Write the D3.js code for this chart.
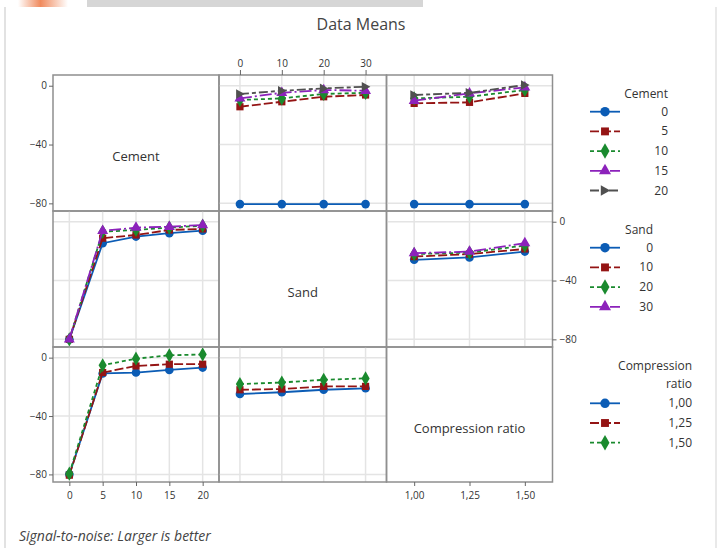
<!DOCTYPE html>
<html>
<head>
<meta charset="utf-8">
<script src="https://cdn.jsdelivr.net/npm/d3@7/dist/d3.min.js"></script>
<style>
  html, body { margin: 0; padding: 0; background: #fff; }
  svg { display: block; }
  text { font-family: "Open Sans", "Noto Sans", "DejaVu Sans", sans-serif; }
</style>
</head>
<body>
<svg id="chart" width="719" height="548"></svg>
<script>
// Factor levels
const cementLevels = [0, 5, 10, 15, 20];
const sandLevels = [0, 10, 20, 30];
const crLevels = [1.00, 1.25, 1.50];

// Tick labels
const cementTicks = ["0", "5", "10", "15", "20"];
const sandTicks = ["0", "10", "20", "30"];
const crTicks = ["1,00", "1,25", "1,50"];
const yTicks = [0, -40, -80];

// S/N means: one row per line level, one value per x level
const cementBySand = [
  [-80.5, -80.5, -80.5, -80.5],
  [-14.3, -10.9, -7.5, -6.3],
  [-9.7, -8.6, -5.6, -4.8],
  [-8.6, -4.8, -2.9, -3.4],
  [-5.6, -3.4, -1.8, -0.7]
];
const cementByCR = [
  [-80.5, -80.5, -80.5],
  [-12.0, -11.3, -5.2],
  [-8.6, -7.5, -2.9],
  [-10.2, -5.2, -1.1],
  [-6.3, -4.8, 0.5]
];
const sandByCement = [
  [-80, -14.6, -10.1, -7.8, -6.1],
  [-80, -11.2, -9.0, -5.6, -4.9],
  [-80, -6.8, -5.6, -4.0, -2.7],
  [-80, -6.2, -4.0, -3.4, -2.2]
];
const sandByCR = [
  [-25.9, -24.3, -20.3],
  [-23.7, -22.0, -18.5],
  [-22.0, -21.0, -16.2],
  [-21.4, -20.3, -14.6]
];
const crByCement = [
  [-80, -10.8, -10.2, -8.4, -6.8],
  [-80.5, -10.2, -5.7, -4.5, -4.5],
  [-79.5, -5.2, -0.7, 1.6, 2.2]
];
const crBySand = [
  [-24.9, -23.7, -22.0, -21.0],
  [-22.0, -21.5, -19.7, -19.7],
  [-18.1, -17.0, -15.2, -14.2]
];

// Line styles per level index
const colors = ["#0b5cb5", "#941414", "#1a8a2e", "#8c22bb", "#505050"];
const dashes = [null, "9,3", "4,3", "12,3,2,3", "9,3,4,3"];
const arrowSymbol = {
  draw(ctx, size) {
    const s = Math.sqrt(size) * 0.62;
    ctx.moveTo(-s * 0.8, -s);
    ctx.lineTo(s, 0);
    ctx.lineTo(-s * 0.8, s);
    ctx.closePath();
  }
};
const symbols = [d3.symbolCircle, d3.symbolSquare, d3.symbolDiamond, d3.symbolTriangle, arrowSymbol];
const symbolSizes = [58, 52, 58, 52, 60];

const svg = d3.select("#chart");

// Backdrop strip and edges
const grad = svg.append("defs").append("linearGradient").attr("id", "fade");
grad.append("stop").attr("offset", "0%").attr("stop-color", "#ffffff");
grad.append("stop").attr("offset", "45%").attr("stop-color", "#f08a5d");
grad.append("stop").attr("offset", "100%").attr("stop-color", "#ffffff");
svg.append("rect").attr("x", 18).attr("y", 0).attr("width", 50).attr("height", 7).attr("fill", "url(#fade)");
svg.append("rect").attr("x", 87).attr("y", 0).attr("width", 336).attr("height", 7).attr("fill", "#d6d6d6");
svg.append("line").attr("x1", 5).attr("x2", 5).attr("y1", 7).attr("y2", 548).attr("stroke", "#d9d9d9").attr("stroke-width", 1.5);
svg.append("line").attr("x1", 716).attr("x2", 716).attr("y1", 7).attr("y2", 548).attr("stroke", "#e2e2e2").attr("stroke-width", 1.5);

// Grid layout
const colX = [53, 219, 386.5, 552.5];
const rowY = [75, 211, 347, 482];

const factors = [
  { name: "Cement", levels: cementLevels, ticks: cementTicks, domain: [-2.45, 22.45] },
  { name: "Sand", levels: sandLevels, ticks: sandTicks, domain: [-5, 35] },
  { name: "Compression ratio", levels: crLevels, ticks: crTicks, domain: [0.875, 1.625] }
];
const xScales = factors.map((f, i) => d3.scaleLinear().domain(f.domain).range([colX[i], colX[i + 1]]));
const yScales = [0, 1, 2].map(i => d3.scaleLinear().domain([-85.2, 7.3]).range([rowY[i + 1], rowY[i]]));

// Interaction table: row factor gives the lines, column factor gives the x axis
const table = {
  "0-1": cementBySand, "0-2": cementByCR,
  "1-0": sandByCement, "1-2": sandByCR,
  "2-0": crByCement, "2-1": crBySand
};

const gridColor = "#e4e4e4";
const borderColor = "#8f8f8f";

for (let r = 0; r < 3; r++) {
  for (let c = 0; c < 3; c++) {
    const x = xScales[c], y = yScales[r];
    const g = svg.append("g");
    if (r === c) {
      g.append("text")
        .attr("x", (colX[c] + colX[c + 1]) / 2)
        .attr("y", (rowY[r] + rowY[r + 1]) / 2 + 18)
        .attr("text-anchor", "middle")
        .attr("font-size", 13)
        .attr("fill", "#333")
        .text(factors[c].name);
    } else {
      // gridlines
      g.selectAll(".vg").data(factors[c].levels).join("line")
        .attr("x1", d => x(d)).attr("x2", d => x(d))
        .attr("y1", rowY[r]).attr("y2", rowY[r + 1])
        .attr("stroke", gridColor).attr("stroke-width", 1.5);
      g.selectAll(".hg").data(yTicks).join("line")
        .attr("x1", colX[c]).attr("x2", colX[c + 1])
        .attr("y1", d => y(d)).attr("y2", d => y(d))
        .attr("stroke", gridColor).attr("stroke-width", 1.5);

      const rows = table[r + "-" + c];
      const lvls = factors[c].levels;
      rows.forEach((vals, k) => {
        const pts = vals.map((v, j) => [x(lvls[j]), y(v)]);
        g.append("path")
          .attr("d", d3.line()(pts))
          .attr("fill", "none")
          .attr("stroke", colors[k])
          .attr("stroke-width", 1.8)
          .attr("stroke-dasharray", dashes[k]);
        g.selectAll(null).data(pts).join("path")
          .attr("transform", p => `translate(${p[0]},${p[1]})`)
          .attr("d", d3.symbol(symbols[k], symbolSizes[k]))
          .attr("fill", colors[k]);
      });
    }
    g.append("rect")
      .attr("x", colX[c]).attr("y", rowY[r])
      .attr("width", colX[c + 1] - colX[c]).attr("height", rowY[r + 1] - rowY[r])
      .attr("fill", "none").attr("stroke", borderColor).attr("stroke-width", 1.5);
  }
}

// Axes
function styleAxis(sel) {
  sel.select(".domain").remove();
  sel.selectAll(".tick line").attr("stroke", "#666");
  sel.selectAll(".tick text").attr("fill", "#333").attr("font-size", 10)
    .style("font-family", "'Liberation Sans Narrow', 'Open Sans', sans-serif");
}
const fmtFrom = (levels, labels) => d => labels[levels.indexOf(d)];

svg.append("g").attr("transform", `translate(0,${rowY[0]})`)
  .call(d3.axisTop(xScales[1]).tickValues(sandLevels).tickFormat(fmtFrom(sandLevels, sandTicks)).tickSize(5).tickPadding(3))
  .call(styleAxis);
svg.append("g").attr("transform", `translate(0,${rowY[3]})`)
  .call(d3.axisBottom(xScales[0]).tickValues(cementLevels).tickFormat(fmtFrom(cementLevels, cementTicks)).tickSize(4).tickPadding(6))
  .call(styleAxis);
svg.append("g").attr("transform", `translate(0,${rowY[3]})`)
  .call(d3.axisBottom(xScales[2]).tickValues(crLevels).tickFormat(fmtFrom(crLevels, crTicks)).tickSize(4).tickPadding(6))
  .call(styleAxis);
svg.append("g").attr("transform", `translate(${colX[0]},0)`)
  .call(d3.axisLeft(yScales[0]).tickValues(yTicks).tickFormat(d3.format("d")).tickSize(4).tickPadding(2))
  .call(styleAxis);
svg.append("g").attr("transform", `translate(${colX[0]},0)`)
  .call(d3.axisLeft(yScales[2]).tickValues(yTicks).tickFormat(d3.format("d")).tickSize(4).tickPadding(2))
  .call(styleAxis);
svg.append("g").attr("transform", `translate(${colX[3]},0)`)
  .call(d3.axisRight(yScales[1]).tickValues(yTicks).tickFormat(d3.format("d")).tickSize(4).tickPadding(3))
  .call(styleAxis);

// Legends
function legend(title, labels, titleY, firstY, labelX) {
  const g = svg.append("g");
  title.forEach((t, i) => {
    g.append("text").attr("x", labelX).attr("y", titleY + i * 18)
      .attr("text-anchor", "end").attr("font-size", 12).attr("fill", "#333").text(t);
  });
  labels.forEach((lab, k) => {
    const yy = firstY + k * 19.7;
    g.append("line").attr("x1", 590).attr("x2", 620).attr("y1", yy).attr("y2", yy)
      .attr("stroke", colors[k]).attr("stroke-width", 1.8).attr("stroke-dasharray", dashes[k]);
    g.append("path").attr("transform", `translate(605,${yy})`)
      .attr("d", d3.symbol(symbols[k], symbolSizes[k] * 1.2)).attr("fill", colors[k]);
    g.append("text").attr("x", labelX).attr("y", yy + 4)
      .attr("text-anchor", "end").attr("font-size", 12).attr("fill", "#333").text(lab);
  });
}
legend(["Cement"], cementTicks, 98, 111.7, 668);
legend(["Sand"], sandTicks, 234, 247.7, 653);
legend(["Compression", "ratio"], crTicks, 370, 403.3, 692);

// Title and footnote
svg.append("text").attr("x", 361).attr("y", 30).attr("text-anchor", "middle")
  .attr("font-size", 16).attr("fill", "#444").text("Data Means");
svg.append("text").attr("x", 19).attr("y", 541)
  .attr("font-size", 14).attr("font-style", "italic").attr("fill", "#444")
  .text("Signal-to-noise: Larger is better");
</script>
</body>
</html>
